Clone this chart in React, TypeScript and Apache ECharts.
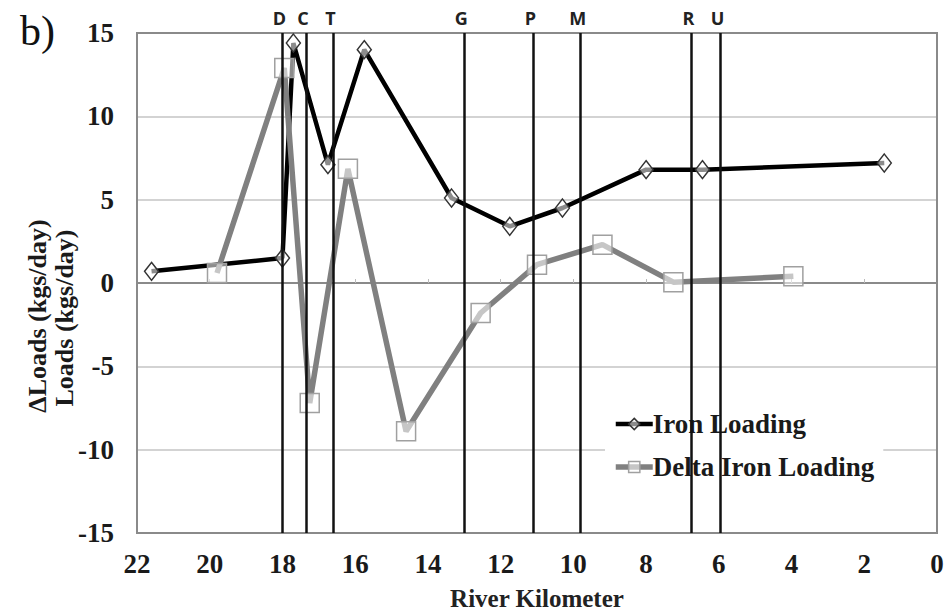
import React, { useEffect, useRef } from "react";
import * as echarts from "echarts";

const kmIron = [21.6, 18.0, 17.7, 16.75, 15.75, 13.35, 11.75, 10.3, 8.0, 6.45, 1.45];
const ironLoad = [0.7, 1.5, 14.4, 7.1, 14.0, 5.1, 3.4, 4.5, 6.8, 6.8, 7.2];
const kmDelta = [19.8, 17.95, 17.25, 16.2, 14.6, 12.55, 11.0, 9.2, 7.25, 3.95];
const deltaLoad = [0.6, 12.9, -7.2, 6.85, -8.9, -1.8, 1.1, 2.3, 0.05, 0.4];
const siteKm = [18.0, 17.35, 16.6, 13.0, 11.1, 9.8, 6.75, 5.95];
const siteLabels = ["D", "C", "T", "G", "P", "M", "R", "U"];
const seriesNames = ["Iron Loading", "Delta Iron Loading"];
const xRange = [0, 22, 2];
const yRange = [-15, 15, 5];

const SERIF = "Liberation Serif";
const SANS = "Open Sans";

export default function App() {
  const ref = useRef<HTMLDivElement>(null);
  useEffect(() => {
    if (!ref.current) return;
    const chart = echarts.init(ref.current, undefined, { renderer: "svg" });
    const ironStyle = { color: "#000", width: 4.5 };
    const deltaStyle = { color: "#808080", width: 5.5 };
    const ironItem = { color: "rgba(255,255,255,0.55)", borderColor: "#333", borderWidth: 1.5 };
    const deltaItem = { color: "rgba(255,255,255,0.55)", borderColor: "#a0a0a0", borderWidth: 1.5 };
    const option = {
      animation: false,
      backgroundColor: "#fff",
      grid: { left: 137, right: 7, top: 33, bottom: 82, containLabel: false, outerBoundsMode: "none" },
      xAxis: {
        type: "value",
        min: xRange[0],
        max: xRange[1],
        interval: xRange[2],
        inverse: true,
        name: "River Kilometer",
        nameLocation: "middle",
        nameGap: 53,
        nameTextStyle: { fontFamily: SERIF, fontWeight: "bold", fontSize: 25, color: "#222" },
        axisLine: { show: true, lineStyle: { color: "#8a8a8a", width: 2 } },
        axisTick: { show: true, inside: true, length: 4, lineStyle: { color: "#bbb" } },
        axisLabel: { margin: 17, fontFamily: SERIF, fontWeight: "bold", fontSize: 27, color: "#1a1a1a" },
        splitLine: { show: false },
      },
      yAxis: {
        type: "value",
        min: yRange[0],
        max: yRange[1],
        interval: yRange[2],
        axisLine: { show: true, lineStyle: { color: "#8a8a8a", width: 2 } },
        axisTick: { show: false },
        axisLabel: { margin: 23, fontFamily: SERIF, fontWeight: "bold", fontSize: 27, color: "#1a1a1a" },
        splitLine: { show: true, lineStyle: { color: "#c4c4c4", width: 1.5 } },
      },
      legend: {
        data: [
          { name: seriesNames[0], itemStyle: ironItem, lineStyle: ironStyle },
          { name: seriesNames[1], itemStyle: deltaItem, lineStyle: deltaStyle },
        ],
        orient: "vertical",
        left: 605,
        top: 403,
        itemWidth: 37,
        itemHeight: 14,
        itemGap: 15,
        padding: [7, 9, 2, 8],
        backgroundColor: "#fff",
        textStyle: {
          fontFamily: SERIF,
          fontWeight: "bold",
          fontSize: 27,
          lineHeight: 28,
          color: "#1a1a1a",
          padding: [0, 0, 0, -5],
        },
      },
      graphic: [
        {
          type: "rect",
          shape: { x: 137, y: 33, width: 800, height: 500 },
          style: { fill: "none", stroke: "#8a8a8a", lineWidth: 2 },
          silent: true,
          z: 1,
        },
        {
          type: "text",
          x: 20,
          y: 10,
          style: { text: "b)", font: `42px ${SERIF}`, fill: "#111" },
        },
        {
          type: "text",
          x: 37,
          y: 316,
          rotation: Math.PI / 2,
          style: {
            text: "\u0394Loads (kgs/day)",
            font: `bold 26px ${SERIF}`,
            fill: "#1a1a1a",
            align: "center",
            verticalAlign: "middle",
          },
        },
        {
          type: "text",
          x: 64,
          y: 318,
          rotation: Math.PI / 2,
          style: {
            text: "Loads (kgs/day)",
            font: `bold 26px ${SERIF}`,
            fill: "#1a1a1a",
            align: "center",
            verticalAlign: "middle",
          },
        },
      ],
      series: [
        {
          name: "sites",
          type: "line",
          data: [],
          z: 1,
          silent: true,
          markLine: {
            silent: true,
            symbol: "none",
            animation: false,
            lineStyle: { color: "#111", width: 2.5, type: "solid" },
            label: {
              show: true,
              position: "end",
              distance: 6,
              offset: [-3, 0],
              formatter: "{b}",
              fontFamily: SANS,
              fontWeight: "bold",
              fontSize: 18,
              color: "#222",
            },
            data: siteKm.map((k, i) => ({ xAxis: k, name: siteLabels[i] })),
          },
        },
        {
          name: seriesNames[0],
          type: "line",
          z: 3,
          data: kmIron.map((k, i) => [k, ironLoad[i]]),
          symbol: "diamond",
          symbolSize: [14, 18],
          lineStyle: ironStyle,
          itemStyle: ironItem,
        },
        {
          name: seriesNames[1],
          type: "line",
          z: 3,
          data: kmDelta.map((k, i) => [k, deltaLoad[i]]),
          symbol: "rect",
          symbolSize: 19,
          lineStyle: deltaStyle,
          itemStyle: deltaItem,
        },
      ],
    };
    chart.setOption(option as any);
    return () => chart.dispose();
  }, []);
  return (
    <div
      ref={ref}
      style={{ position: "fixed", left: 0, top: 0, width: 944, height: 615, background: "#fff" }}
    />
  );
}
